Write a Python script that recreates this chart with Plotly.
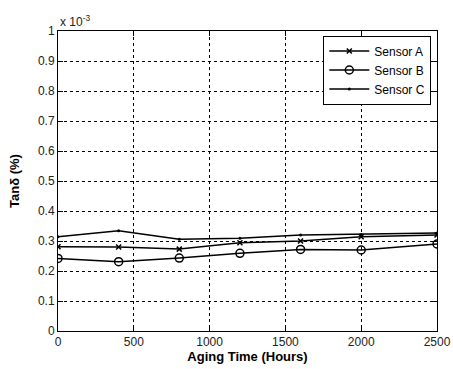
import plotly.graph_objects as go

hours = [0, 400, 800, 1200, 1600, 2000, 2500]
sensor_a = [0.281, 0.280, 0.273, 0.294, 0.300, 0.314, 0.320]
sensor_b = [0.242, 0.231, 0.243, 0.259, 0.272, 0.270, 0.290]
sensor_c = [0.314, 0.334, 0.306, 0.309, 0.320, 0.322, 0.327]
y_ticks = [0, 0.1, 0.2, 0.3, 0.4, 0.5, 0.6, 0.7, 0.8, 0.9, 1]
y_tick_text = ["0", "0.1", "0.2", "0.3", "0.4", "0.5", "0.6", "0.7", "0.8", "0.9", "1"]
x_ticks = [0, 500, 1000, 1500, 2000, 2500]

font = "Liberation Sans, Arial, sans-serif"
fig = go.Figure()
fig.add_trace(go.Scatter(x=hours, y=sensor_a, name="Sensor A", mode="lines+markers",
                         line=dict(color="black", width=1.5),
                         marker=dict(symbol="x-thin", size=5, color="black",
                                     line=dict(color="black", width=1.5))))
fig.add_trace(go.Scatter(x=hours, y=sensor_b, name="Sensor B", mode="lines+markers",
                         line=dict(color="black", width=1.5),
                         marker=dict(symbol="circle-open", size=8, color="black",
                                     line=dict(color="black", width=1.5))))
fig.add_trace(go.Scatter(x=hours, y=sensor_c, name="Sensor C", mode="lines+markers",
                         line=dict(color="black", width=1.5),
                         marker=dict(symbol="circle", size=3, color="black")))

axis_common = dict(showline=True, linecolor="black", linewidth=1, mirror="ticks",
                   ticks="inside", ticklen=5, tickcolor="black", automargin=False,
                   showgrid=True, gridcolor="black", griddash="dot", gridwidth=1,
                   zeroline=False, tickfont=dict(family=font, size=12, color="#222"))

fig.update_xaxes(range=[0, 2500], tickvals=x_ticks,
                 title=dict(text="<b>Aging Time (Hours)</b>", font=dict(family=font, size=13, color="black"), standoff=3),
                 **axis_common)
fig.update_yaxes(range=[0, 1], tickvals=y_ticks, ticktext=y_tick_text,
                 title=dict(text="<b>Tanδ (%)</b>", font=dict(family=font, size=13, color="black"), standoff=15),
                 **axis_common)

fig.add_annotation(text="x 10<sup>-3</sup>", xref="paper", yref="paper", x=0.0, y=1.0,
                   xanchor="left", yanchor="bottom", showarrow=False,
                   font=dict(family=font, size=12, color="#222"))

fig.update_layout(width=453, height=369, margin=dict(l=58, r=16, t=31, b=38),
                  plot_bgcolor="white", paper_bgcolor="white",
                  legend=dict(x=0.985, y=0.985, xanchor="right", yanchor="top",
                              bordercolor="black", borderwidth=1, bgcolor="white",
                              font=dict(family=font, size=12, color="black"),
                              tracegroupgap=0, itemwidth=40))
fig.write_html("out.html")
